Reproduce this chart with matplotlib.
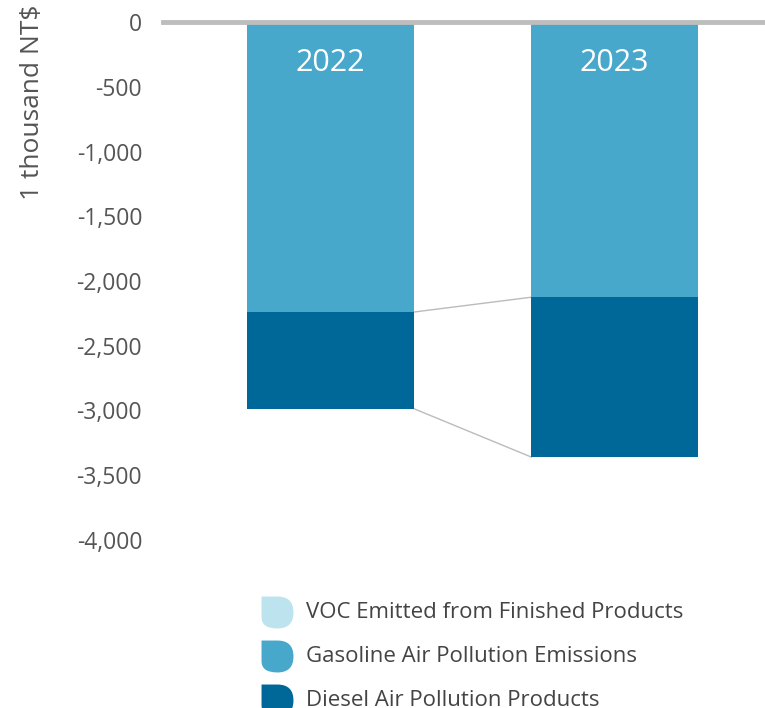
import matplotlib
matplotlib.use('Agg')
import matplotlib.pyplot as plt
from matplotlib.path import Path
from matplotlib.lines import Line2D
import numpy as np

plt.rcParams['font.family'] = ['Open Sans', 'DejaVu Sans']

years = ['2022', '2023']
series = ['VOC Emitted from Finished Products',
          'Gasoline Air Pollution Emissions',
          'Diesel Air Pollution Products']
voc = [-8, -8]
gasoline = [-2232, -2117]
diesel = [-745, -1235]
colors = ['#BDE3EE', '#48A8CC', '#006898']
yticks = [0, -500, -1000, -1500, -2000, -2500, -3000, -3500, -4000]

fig = plt.figure(figsize=(7.65, 7.08), dpi=100)
ax = fig.add_axes([163 / 765, 1 - 540 / 708, 1 - 163 / 765, 518 / 708])

x = np.arange(len(years))
width = 0.585
bottom = np.zeros(len(years))
tops = [bottom.copy()]
for vals, c in zip([voc, gasoline, diesel], colors):
    ax.bar(x, vals, width, bottom=bottom, color=c, zorder=2)
    bottom = bottom + np.array(vals)
    tops.append(bottom.copy())

# connector lines between segment boundaries
for lvl in tops[2:]:
    ax.plot([x[0] + width / 2, x[1] - width / 2], [lvl[0], lvl[1]],
            color='#BBBBBB', lw=1, zorder=1)

for xi, yr in zip(x, years):
    ax.text(xi, -315, yr, color='white', ha='center', va='center', fontsize=22)

ax.axhline(0, color='#BDBDBD', lw=3.5, zorder=3, clip_on=False)
ax.set_xlim(-0.59, 1.53)
ax.set_ylim(-4000, 0)
ax.set_yticks(yticks)
ax.set_yticklabels([f'{v:,}' for v in yticks])
ax.tick_params(axis='y', length=0, pad=15, labelsize=16.5, labelcolor='#555555')
ax.set_xticks([])
for s in ax.spines.values():
    s.set_visible(False)

fig.text(33 / 765, 1 - 4 / 708, '1 thousand NT$', rotation=90, ha='center', va='top',
         fontsize=19, color='#555555')

# legend with leaf-shaped markers
verts = [(-1, 1), (0, 1), (1, 1), (1, 0), (1, -1), (0, -1),
         (-1, -1), (-1, -0.3), (-1, 1)]
codes = [Path.MOVETO, Path.LINETO, Path.CURVE3, Path.CURVE3, Path.CURVE3, Path.CURVE3,
         Path.CURVE3, Path.CURVE3, Path.CLOSEPOLY]
leaf = Path(verts, codes)
for i, (lab, c) in enumerate(zip(series, colors)):
    yy = 1 - (612 + 44 * i) / 708
    fig.add_artist(Line2D([277 / 765], [yy], marker=leaf, markersize=23,
                          color=c, markeredgewidth=0, transform=fig.transFigure))
    fig.text(306 / 765, yy - 1 / 708, lab, va='center', ha='left', fontsize=16, color='#444444')

fig.savefig('out.png', dpi=100)
